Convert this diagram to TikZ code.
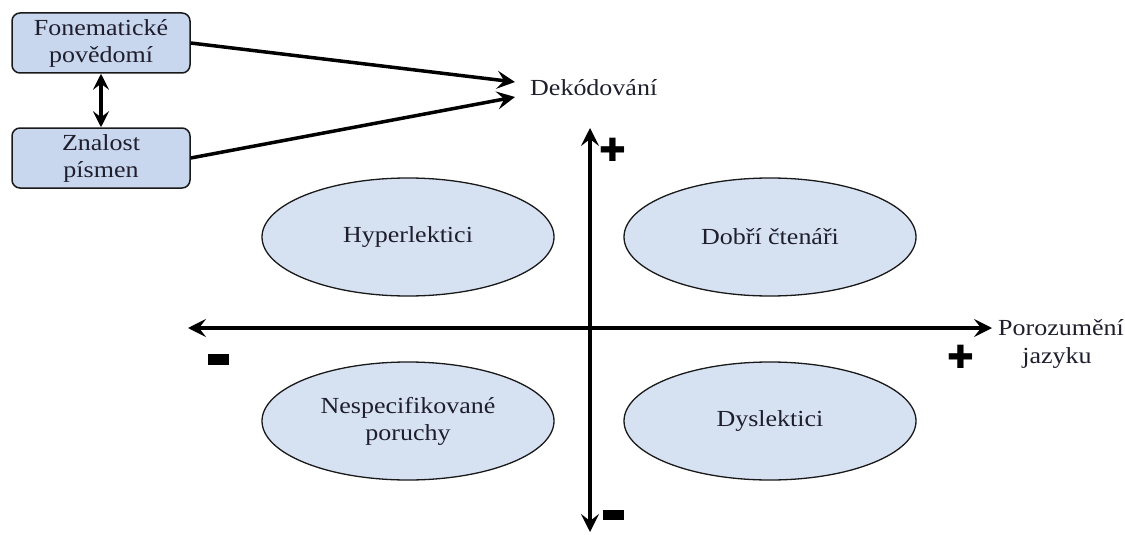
\documentclass[tikz,border=0pt]{standalone}
\usepackage{fontspec}
\setmainfont{Liberation Serif}
\newfontfamily\tnr[FakeStretch=1.13]{Liberation Serif}
\newfontfamily\dejavu{DejaVu Sans}
\usetikzlibrary{arrows.meta,shapes.geometric}
\definecolor{boxblue}{RGB}{200,214,238}
\definecolor{ovalblue}{RGB}{214,225,242}
\definecolor{txtcol}{RGB}{30,30,45}
\tikzset{
  txt/.style={font=\tnr\fontsize{23}{27}\selectfont, text=txtcol},
  box/.style={txt, draw=black!90, line width=1.5pt, fill=boxblue, rounded corners=8pt, minimum width=178pt, minimum height=60pt, align=center, inner sep=2pt},
  oval/.style={txt, draw=black!90, line width=1.3pt, fill=ovalblue, ellipse, minimum width=292pt, minimum height=118pt, align=center},
  lbl/.style={txt, align=center, inner sep=0pt},
  tip/.style={Stealth[length=18pt,width=18pt,inset=7pt]},
  conn/.style={line width=3.5pt, -{Stealth[length=18pt,width=18pt,inset=7pt]}},
  axis/.style={line width=3.5pt, {Stealth[length=18pt,width=18pt,inset=7pt]}-{Stealth[length=18pt,width=18pt,inset=7pt]}},
  sign/.style={font=\dejavu\fontsize{32}{32}\selectfont, inner sep=0pt}
}
\begin{document}
\begin{tikzpicture}[x=1pt,y=-1pt]
\useasboundingbox (0,0) rectangle (1125,535);
\node[box] (fon) at (101,43) {Fonematické\\povědomí};
\node[box] (zna) at (101,158) {Znalost\\písmen};
\node[lbl, anchor=west] (dek) at (530,88) {Dekódování};
\coordinate (t1) at (515,82);
\coordinate (t2) at (515,97);
\draw[conn] (fon.east) -- (t1);
\draw[conn] (zna.east) -- (t2);
\draw[line width=3.5pt, {Stealth[length=16pt,width=16pt,inset=6pt]}-{Stealth[length=16pt,width=16pt,inset=6pt]}] (fon.south) -- (zna.north);

\node[oval] (hyp) at (408,237) {Hyperlektici};
\node[oval] (dob) at (770,237) {Dobří čtenáři};
\node[oval] (nes) at (408,421) {Nespecifikované\\poruchy};
\node[oval] (dys) at (770,421) {Dyslektici};

\coordinate (ytop) at (590,128);
\coordinate (ybot) at (590,532);
\coordinate (xl) at (188,328);
\coordinate (xr) at (992,328);
\draw[axis] (ybot) -- (ytop);
\draw[axis] (xl) -- (xr);

\node[lbl, anchor=west] (por) at (998,328) {Porozumění};
\node[lbl] (jaz) at (1057,358) {jazyku};

\node[sign] (p1) at (613,150) {✚};
\node[sign] (p2) at (961,357) {✚};
\fill (208,354) rectangle (229,365);
\fill (603,510) rectangle (624,520);
\end{tikzpicture}
\end{document}
